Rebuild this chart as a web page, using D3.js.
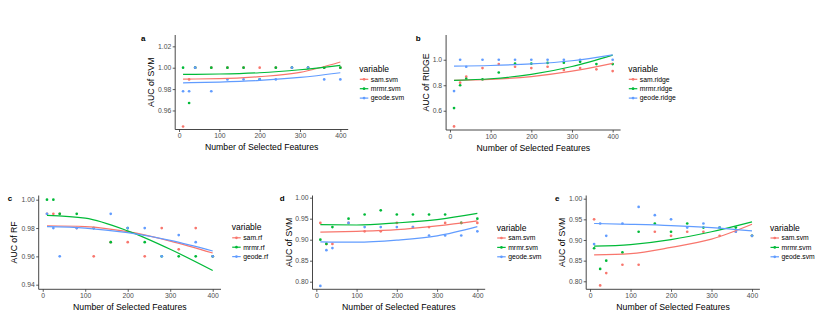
<!DOCTYPE html>
<html><head><meta charset="utf-8">
<script src="https://cdn.jsdelivr.net/npm/d3@7"></script>
<style>body{margin:0;background:#fff}svg{display:block}text{font-family:"Liberation Sans",Arial,sans-serif}</style>
</head><body>
<svg id="c" width="826" height="321"></svg>
<script>
// ---- data ----
const features = [10, 25, 40, 80, 120, 160, 200, 240, 280, 320, 360, 400];
const fitX = [10, 100, 200, 300, 400];
const xTicks = [0, 100, 200, 300, 400];

// panel a: AUC of SVM
const aSam   = [0.945, 0.989, 1.0, 1.0, 1.0, 1.0, 1.0, 1.0, 1.0, 1.0, 1.0, 1.0];
const aMrmr  = [1.0, 0.967, 1.0, 1.0, 1.0, 1.0, 0.989, 1.0, 1.0, 1.0, 1.0, 1.0];
const aGeode = [0.978, 0.978, 1.0, 0.978, 0.989, 0.989, 0.989, 0.989, 1.0, 1.0, 0.989, 0.989];
const aFitSam   = [0.9894, 0.9897, 0.9916, 0.9956, 1.0053];
const aFitMrmr  = [0.9938, 0.9941, 0.9953, 0.9981, 1.0022];
const aFitGeode = [0.9859, 0.9866, 0.9881, 0.9909, 0.9953];
const aTicks = [0.96, 0.98, 1.00, 1.02];

// panel b: AUC of RIDGE
const bSam   = [0.477, 0.82, 0.867, 0.935, 0.966, 0.945, 0.935, 0.945, 0.92, 0.935, 0.925, 0.911];
const bMrmr  = [0.621, 0.80, 0.851, 0.846, 0.90, 0.969, 0.969, 0.975, 0.977, 0.984, 0.966, 0.966];
const bGeode = [0.754, 1.0, 0.945, 1.0, 1.0, 1.0, 1.0, 1.0, 1.0, 1.0, null, 1.0];
const bFitSam   = [0.838, 0.846, 0.868, 0.910, 0.972];
const bFitMrmr  = [0.838, 0.851, 0.885, 0.947, 1.036];
const bFitGeode = [0.950, 0.955, 0.967, 0.992, 1.038];
const bTicks = [0.6, 0.8, 1.0];

// panel c: AUC of RF
const cSam   = [0.99, 0.99, 0.99, 0.98, 0.96, 0.97, 0.97, 0.96, 0.98, 0.965, 0.98, 0.96];
const cMrmr  = [1.0, 1.0, 0.99, 0.99, 0.98, 0.97, 0.98, 0.97, 0.96, 0.96, 0.96, 0.96];
const cGeode = [0.99, 0.98, 0.96, 0.98, 0.98, 0.99, 0.98, 0.98, 0.96, 0.975, 0.97, 0.96];
const cFitSam   = [0.9816, 0.9810, 0.9774, 0.9708, 0.9624];
const cFitMrmr  = [0.9890, 0.9870, 0.9780, 0.9650, 0.9500];
const cFitGeode = [0.9810, 0.9800, 0.9767, 0.9713, 0.9638];
const cTicks = [0.94, 0.96, 0.98, 1.00];

// panel d: AUC of SVM
const dSam   = [0.94, 0.89, 0.89, 0.94, 0.92, 0.92, 0.94, 0.93, 0.93, 0.94, 0.94, 0.94];
const dMrmr  = [0.90, 0.89, 0.93, 0.95, 0.96, 0.97, 0.96, 0.96, 0.96, 0.96, 0.94, 0.95];
const dGeode = [0.79, 0.875, 0.88, 0.94, 0.93, 0.93, 0.93, 0.93, 0.91, 0.91, 0.91, 0.92];
const dFitSam   = [0.918, 0.920, 0.924, 0.933, 0.945];
const dFitMrmr  = [0.9357, 0.935, 0.940, 0.948, 0.9627];
const dFitGeode = [0.895, 0.894, 0.899, 0.909, 0.931];
const dTicks = [0.80, 0.85, 0.90, 0.95, 1.00];

// panel e: AUC of SVM
const eSam   = [0.95, 0.79, 0.82, 0.84, 0.84, 0.92, 0.91, 0.92, 0.92, 0.91, 0.92, 0.91];
const eMrmr  = [0.88, 0.83, 0.85, 0.87, 0.92, 0.94, 0.92, 0.94, 0.93, 0.93, 0.93, 0.91];
const eGeode = [0.89, 0.94, 0.91, 0.94, 0.98, 0.96, 0.95, 0.93, 0.94, 0.93, 0.92, 0.91];
const eFitSam   = [0.864, 0.867, 0.882, 0.902, 0.938];
const eFitMrmr  = [0.885, 0.889, 0.901, 0.920, 0.944];
const eFitGeode = [0.940, 0.938, 0.935, 0.930, 0.922];
const eTicks = [0.80, 0.85, 0.90, 0.95, 1.00];

const colors = ["#F8766D", "#00BA38", "#619CFF"];

// ---- layout ----
const panels = [
  {tag:"a", ytitle:"AUC of SVM", labels:["sam.svm","mrmr.svm","geode.svm"],
   series:[aSam,aMrmr,aGeode], fits:[aFitSam,aFitMrmr,aFitGeode], ticks:aTicks, fmt:".2f",
   x0:175.2, x1:348.2, y0:35, y1:129.5, dom:[0.9422,1.0306],
   tagX:143.3, tagY:38.3, ytX:151, legX:359.3, legY:69},
  {tag:"b", ytitle:"AUC of RIDGE", labels:["sam.ridge","mrmr.ridge","geode.ridge"],
   series:[bSam,bMrmr,bGeode], fits:[bFitSam,bFitMrmr,bFitGeode], ticks:bTicks, fmt:".1f",
   x0:446.1, x1:620.6, y0:35, y1:130, dom:[0.449,1.194],
   tagX:418.3, tagY:38.3, ytX:426, legX:628.3, legY:69},
  {tag:"c", ytitle:"AUC of RF", labels:["sam.rf","mrmr.rf","geode.rf"],
   series:[cSam,cMrmr,cGeode], fits:[cFitSam,cFitMrmr,cFitGeode], ticks:cTicks, fmt:".2f",
   x0:38.7, x1:221, y0:195.5, y1:289.3, dom:[0.93675,1.00296],
   tagX:10, tagY:198.3, ytX:14, legX:231.7, legY:227.5},
  {tag:"d", ytitle:"AUC of SVM", labels:["sam.svm","mrmr.svm","geode.svm"],
   series:[dSam,dMrmr,dGeode], fits:[dFitSam,dFitMrmr,dFitGeode], ticks:dTicks, fmt:".2f",
   x0:312.5, x1:485.2, y0:195.5, y1:289.3, dom:[0.7819,1.00524],
   tagX:282.3, tagY:197.7, ytX:289, legX:496.7, legY:227.7},
  {tag:"e", ytitle:"AUC of SVM", labels:["sam.svm","mrmr.svm","geode.svm"],
   series:[eSam,eMrmr,eGeode], fits:[eFitSam,eFitMrmr,eFitGeode], ticks:eTicks, fmt:".2f",
   x0:586.2, x1:759.9, y0:195.5, y1:289.3, dom:[0.7806,1.00775],
   tagX:557.3, tagY:198.3, ytX:562, legX:770, legY:227.7}
];

const svg = d3.select("#c");
const axisCol = "#333", tickTextCol = "#4d4d4d";

panels.forEach(p => {
  const x = d3.scaleLinear().domain([-9.5, 419.5]).range([p.x0, p.x1]);
  const y = d3.scaleLinear().domain(p.dom).range([p.y1, p.y0]);
  const g = svg.append("g");

  // x axis
  const xa = g.append("g").attr("transform", `translate(0,${p.y1})`)
    .call(d3.axisBottom(x).tickValues(xTicks).tickSize(2.5).tickPadding(1.5).tickFormat(d3.format("d")));
  // y axis
  const ya = g.append("g").attr("transform", `translate(${p.x0},0)`)
    .call(d3.axisLeft(y).tickValues(p.ticks).tickSize(2.5).tickPadding(1.5).tickFormat(d3.format(p.fmt)));
  [xa, ya].forEach(a => {
    a.select(".domain").attr("stroke", axisCol).attr("stroke-width", 0.9);
    a.selectAll(".tick line").attr("stroke", axisCol).attr("stroke-width", 0.8);
    a.selectAll(".tick text").attr("fill", tickTextCol).style("font-size", "6.8px");
  });
  // extend axis lines to full extent (ggplot style, no outer ticks)
  xa.select(".domain").attr("d", `M${p.x0},0H${p.x1}`);
  ya.select(".domain").attr("d", `M0,${p.y0}V${p.y1}`);

  // points
  p.series.forEach((s, i) => {
    g.append("g").selectAll("circle")
      .data(features.map((f, j) => ({f, v: s[j]})).filter(d => d.v != null))
      .join("circle")
      .attr("cx", d => x(d.f)).attr("cy", d => y(d.v)).attr("r", 1.35)
      .attr("fill", colors[i]);
  });
  // smooth fits
  const line = d3.line().x(d => x(d.f)).y(d => y(d.v)).curve(d3.curveMonotoneX);
  p.fits.forEach((s, i) => {
    g.append("path").datum(fitX.map((f, j) => ({f, v: s[j]})))
      .attr("d", line).attr("fill", "none").attr("stroke", colors[i]).attr("stroke-width", 1.2);
  });

  // titles
  g.append("text").attr("x", (p.x0 + p.x1) / 2).attr("y", p.y1 + 20.5)
    .attr("text-anchor", "middle").style("font-size", "8.7px").attr("fill", "#000")
    .text("Number of Selected Features");
  g.append("text").attr("transform", `translate(${p.ytX},${(p.y0 + p.y1) / 2}) rotate(-90)`)
    .attr("text-anchor", "middle").attr("dy", "0.35em").style("font-size", "8.7px").attr("fill", "#000")
    .text(p.ytitle);
  g.append("text").attr("x", p.tagX).attr("y", p.tagY).attr("dy", "0.35em")
    .attr("text-anchor", "middle").style("font-size", "8px").style("font-weight", "bold")
    .text(p.tag);

  // legend
  const lg = g.append("g").attr("transform", `translate(${p.legX},${p.legY})`);
  lg.append("text").attr("x", 0).attr("y", 0).attr("dy", "0.35em").style("font-size", "8.5px").text("variable");
  p.labels.forEach((lab, i) => {
    const yy = 10.3 + i * 9.4;
    lg.append("line").attr("x1", 0.5).attr("x2", 9).attr("y1", yy).attr("y2", yy)
      .attr("stroke", colors[i]).attr("stroke-width", 1.2);
    lg.append("circle").attr("cx", 4.75).attr("cy", yy).attr("r", 1.35).attr("fill", colors[i]);
    lg.append("text").attr("x", 11.5).attr("y", yy).attr("dy", "0.35em").style("font-size", "6.8px")
      .attr("fill", "#000").text(lab);
  });
});
</script>
</body></html>
